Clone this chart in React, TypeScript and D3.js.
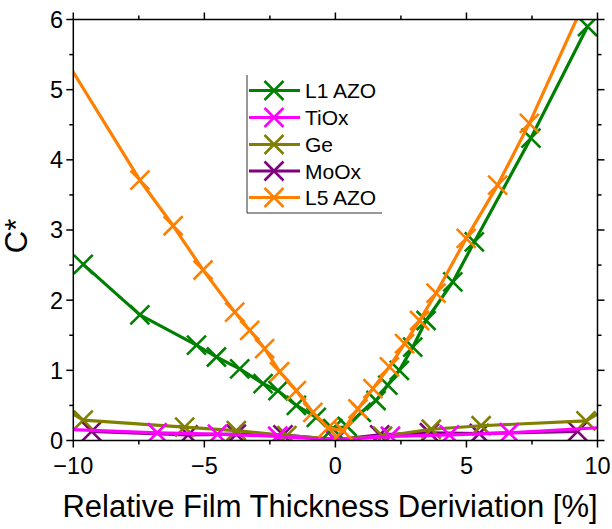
import React from "react";
import * as d3 from "d3";

const W = 612;
const H = 529;

const xTicks = [-10, -5, 0, 5, 10];
const yTicks = [0, 1, 2, 3, 4, 5, 6];

const seriesNames = ["L1 AZO", "TiOx", "Ge", "MoOx", "L5 AZO"];
const seriesColors = ["#008000", "#ff00ff", "#808000", "#800080", "#ff8000"];

// L1 AZO (green)
const l1X = [-9.62, -7.46, -5.3, -4.54, -3.65, -2.76, -2.19, -1.49, -0.73, -0.1, 0.45, 0.99, 1.55, 2.0, 2.44, 2.95, 3.46, 4.48, 5.3, 7.46, 9.62];
const l1Y = [2.51, 1.79, 1.36, 1.19, 1.02, 0.81, 0.71, 0.5, 0.33, 0.17, 0.2, 0.4, 0.57, 0.79, 1.0, 1.33, 1.71, 2.26, 2.83, 4.31, 5.9];

// TiOx (magenta)
const tiX = [-10.4, -6.8, -4.5, -2.2, 0, 2.1, 4.35, 6.63, 10.4];
const tiY = [0.16, 0.11, 0.09, 0.06, 0.01, 0.06, 0.08, 0.11, 0.19];

// Ge (olive)
const geX = [-10.4, -9.62, -5.75, -3.78, -1.85, 0, 1.8, 3.66, 5.56, 9.56, 10.4];
const geY = [0.47, 0.29, 0.19, 0.14, 0.07, 0.02, 0.06, 0.16, 0.21, 0.28, 0.47];

// MoOx (purple)
const moX = [-9.3, -5.62, -3.78, -2.0, 0, 1.69, 3.59, 5.49, 9.24];
const moY = [0.13, 0.08, 0.09, 0.08, 0.01, 0.08, 0.11, 0.1, 0.13];

// L5 AZO (orange)
const l5X = [-10.4, -7.46, -6.19, -5.05, -3.84, -3.27, -2.7, -2.13, -1.49, -0.86, -0.28, 0.29, 0.86, 1.43, 2.06, 2.64, 3.21, 3.84, 4.99, 6.19, 7.4, 10.4];
const l5Y = [5.49, 3.71, 3.06, 2.43, 1.83, 1.57, 1.31, 0.98, 0.71, 0.4, 0.18, 0.14, 0.45, 0.74, 1.05, 1.38, 1.71, 2.1, 2.88, 3.64, 4.52, 6.99];

const FONT = "'Liberation Sans', Arial, sans-serif";

const x = d3.scaleLinear().domain([-10, 10]).range([73.3, 597.5]);
const y = d3.scaleLinear().domain([0, 6]).range([440.5, 19.5]);

type Pt = [number, number];
const zip = (xs: number[], ys: number[]): Pt[] => xs.map((v, i) => [v, ys[i]]);

const seriesData: { idx: number; pts: Pt[] }[] = [
  { idx: 3, pts: zip(moX, moY) },
  { idx: 2, pts: zip(geX, geY) },
  { idx: 1, pts: zip(tiX, tiY) },
  { idx: 0, pts: zip(l1X, l1Y) },
  { idx: 4, pts: zip(l5X, l5Y) },
];

const line = d3
  .line<Pt>()
  .x((d) => x(d[0]))
  .y((d) => y(d[1]));

const M = 9.5;
function Cross({ cx, cy, color }: { cx: number; cy: number; color: string }) {
  return (
    <path
      d={`M${cx - M},${cy - M}L${cx + M},${cy + M}M${cx - M},${cy + M}L${cx + M},${cy - M}`}
      stroke={color}
      strokeWidth={2.6}
      fill="none"
    />
  );
}

export default function App() {
  const [x0, x1] = x.range();
  const [y0, y1] = y.range();
  const xMinor = d3.range(-10, 10.01, 2.5).filter((v) => !xTicks.includes(v));
  const yMinor = d3.range(0, 6.01, 0.5).filter((v) => !yTicks.includes(v));
  const MAJ = 7;
  const MIN = 4;
  const legX = 247;
  const legRows = [90.5, 117.5, 144.5, 171, 197.5];

  return (
    <svg
      width={W}
      height={H}
      style={{ position: "absolute", left: 0, top: 0, background: "#fff" }}
      fontFamily={FONT}
    >
      <defs>
        <clipPath id="plotClip">
          <rect x={x0} y={y1} width={x1 - x0} height={y0 - y1} />
        </clipPath>
      </defs>

      <g clipPath="url(#plotClip)">
        {seriesData.map((s) => (
          <g key={s.idx}>
            <path
              d={line(s.pts) || ""}
              stroke={seriesColors[s.idx]}
              strokeWidth={3.2}
              fill="none"
              strokeLinejoin="round"
            />
            {s.pts.map((p, i) => (
              <Cross key={i} cx={x(p[0])} cy={y(p[1])} color={seriesColors[s.idx]} />
            ))}
          </g>
        ))}
      </g>

      {/* frame */}
      <rect x={x0} y={y1} width={x1 - x0} height={y0 - y1} fill="none" stroke="#000" strokeWidth={1.5} />

      {/* x ticks bottom & top */}
      {xTicks.map((v) => (
        <g key={"xt" + v}>
          <line x1={x(v)} x2={x(v)} y1={y0} y2={y0 + MAJ} stroke="#000" strokeWidth={1.5} />
          <line x1={x(v)} x2={x(v)} y1={y1} y2={y1 - MAJ} stroke="#000" strokeWidth={1.5} />
          <text x={x(v)} y={474} textAnchor="middle" fontSize={23.5} fill="#000">
            {v < 0 ? "\u2212" + Math.abs(v) : String(v)}
          </text>
        </g>
      ))}
      {xMinor.map((v) => (
        <g key={"xm" + v}>
          <line x1={x(v)} x2={x(v)} y1={y0} y2={y0 + MIN} stroke="#000" strokeWidth={1.5} />
          <line x1={x(v)} x2={x(v)} y1={y1} y2={y1 - MIN} stroke="#000" strokeWidth={1.5} />
        </g>
      ))}

      {/* y ticks left & right */}
      {yTicks.map((v) => (
        <g key={"yt" + v}>
          <line x1={x0} x2={x0 - MAJ} y1={y(v)} y2={y(v)} stroke="#000" strokeWidth={1.5} />
          <line x1={x1} x2={x1 + MAJ} y1={y(v)} y2={y(v)} stroke="#000" strokeWidth={1.5} />
          <text x={63} y={y(v)} dy="0.36em" textAnchor="end" fontSize={23.5} fill="#000">
            {String(v)}
          </text>
        </g>
      ))}
      {yMinor.map((v) => (
        <g key={"ym" + v}>
          <line x1={x0} x2={x0 - MIN} y1={y(v)} y2={y(v)} stroke="#000" strokeWidth={1.5} />
          <line x1={x1} x2={x1 + MIN} y1={y(v)} y2={y(v)} stroke="#000" strokeWidth={1.5} />
        </g>
      ))}

      {/* axis titles */}
      <text x={330} y={517} textAnchor="middle" fontSize={31} fill="#000">
        Relative Film Thickness Deriviation [%]
      </text>
      <text
        transform={`translate(27,236) rotate(-90)`}
        textAnchor="middle"
        fontSize={31}
        fill="#000"
      >
        C*
      </text>

      {/* legend */}
      <line x1={legX} x2={legX} y1={75} y2={213} stroke="#333" strokeWidth={1} />
      <line x1={legX} x2={382} y1={213} y2={213} stroke="#333" strokeWidth={1} />
      {seriesNames.map((name, i) => (
        <g key={name}>
          <line x1={legX + 2} x2={300} y1={legRows[i]} y2={legRows[i]} stroke={seriesColors[i]} strokeWidth={3.2} />
          <Cross cx={274} cy={legRows[i]} color={seriesColors[i]} />
          <text x={305} y={legRows[i]} dy="0.36em" fontSize={21} fill="#000">
            {name}
          </text>
        </g>
      ))}
    </svg>
  );
}
